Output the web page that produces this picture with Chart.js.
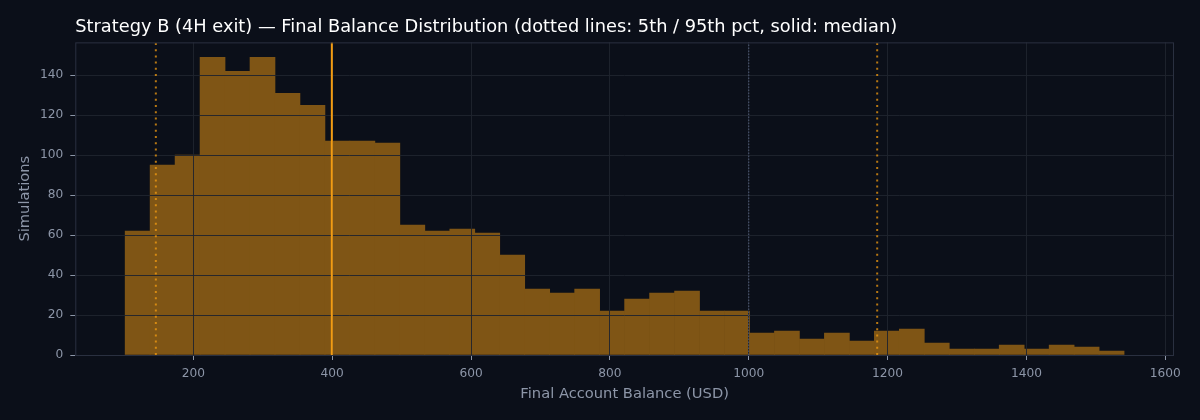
<!DOCTYPE html>
<html>
<head>
<meta charset="utf-8">
<title>Strategy B final balance distribution</title>
<script src="https://cdn.jsdelivr.net/npm/chart.js@4.4.1/dist/chart.umd.min.js"></script>
<style>
  html, body { margin: 0; padding: 0; background: #0b0f19; }
  #wrap { width: 1200px; height: 420px; position: relative; }
</style>
</head>
<body>
<div id="wrap"><canvas id="myChart"></canvas></div>
<script>
// histogram: 40 equal bins, first left edge + width
const binStart = 101.8;
const binWidth = 35.97;
const counts = [
  62, 95, 100, 149, 142, 149, 131, 125, 107, 107,
  106, 65, 62, 63, 61, 50, 33, 31, 33, 22,
  28, 31, 32, 22, 22, 11, 12, 8, 11, 7,
  12, 13, 6, 3, 3, 5, 3, 5, 4, 2,
];
const pct5 = 146;
const median = 399.5;
const pct95 = 1185;
const startBalance = 1000;

const xTicks = [200, 400, 600, 800, 1000, 1200, 1400, 1600];
const yTicks = [0, 20, 40, 60, 80, 100, 120, 140];
const xRange = [30, 1612.5];
const yRange = [0, 156.45];

const tickColor = "#8d96a8";
const gridColor = "rgba(32, 36, 46, 0.92)";
const orange = "#f39c12";

const binCenters = counts.map((_, i) => binStart + binWidth * (i + 0.5));

function vline(xVal, color, width, dash) {
  return {
    type: "line",
    data: [{ x: xVal, y: yRange[0] }, { x: xVal, y: yRange[1] }],
    borderColor: color,
    borderWidth: width,
    borderDash: dash,
    pointRadius: 0,
    fill: false,
    order: 0,
  };
}

// bars sit under the grid, the marker lines go over it
const linesOnTop = {
  id: "linesOnTop",
  beforeDatasetDraw(chart, args) {
    if (args.meta.type === "line") return false;
  },
  afterDraw(chart) {
    const { ctx, chartArea: { left, top, right, bottom } } = chart;
    ctx.save();
    ctx.beginPath();
    ctx.rect(left, top, right - left, bottom - top);
    ctx.clip();
    chart.getSortedVisibleDatasetMetas()
      .filter((m) => m.type === "line")
      .reverse()
      .forEach((m) => m.controller.draw());
    ctx.restore();

    // frame round the plot
    ctx.save();
    ctx.strokeStyle = "#2a3040";
    ctx.lineWidth = 1;
    ctx.strokeRect(left + 0.5, top + 0.5, right - left - 1, bottom - top);
    ctx.restore();
  },
};

const ctx = document.getElementById("myChart");
// eslint-disable-next-line no-undef
new Chart(ctx, {
  data: {
    datasets: [
      vline(median, orange, 2, []),
      vline(pct5, "rgba(243, 156, 18, 0.75)", 2, [2, 4.2]),
      vline(pct95, "rgba(243, 156, 18, 0.75)", 2, [2, 4.2]),
      vline(startBalance, "#4f5d78", 1, [1.5, 1.5]),
      {
        type: "bar",
        data: binCenters.map((c, i) => ({ x: c, y: counts[i] })),
        backgroundColor: "#7f5515",
        borderWidth: 0,
        barPercentage: 1,
        categoryPercentage: 1,
        order: 10,
      },
    ],
  },
  options: {
    responsive: true,
    maintainAspectRatio: false,
    animation: false,
    layout: { padding: { left: 0, right: 26, top: 0, bottom: 0 } },
    plugins: {
      legend: { display: false },
      tooltip: { enabled: false },
      title: {
        display: true,
        text: "Strategy B (4H exit) — Final Balance Distribution (dotted lines: 5th / 95th pct, solid: median)",
        align: "start",
        fullSize: false,
        color: "#ffffff",
        font: { family: "DejaVu Sans", size: 17.8, weight: "normal" },
        padding: { top: 16.5, bottom: 4.5 },
      },
    },
    scales: {
      x: {
        type: "linear",
        min: xRange[0],
        max: xRange[1],
        offset: false,
        z: 1,
        afterBuildTicks: (axis) => { axis.ticks = xTicks.map((v) => ({ value: v })); },
        afterFit: (scale) => { scale.height = 65; },
        grid: { color: gridColor, tickColor: tickColor, tickLength: 5, offset: false, z: 1 },
        border: { display: false },
        ticks: {
          color: tickColor,
          padding: 7,
          maxRotation: 0,
          callback: (v) => String(v),
          font: { family: "DejaVu Sans", size: 12.2 },
        },
        title: {
          display: true,
          text: "Final Account Balance (USD)",
          color: tickColor,
          font: { family: "DejaVu Sans", size: 14.7 },
          padding: { top: 4, bottom: 17.5 },
        },
      },
      y: {
        type: "linear",
        min: yRange[0],
        max: yRange[1],
        z: 1,
        afterBuildTicks: (axis) => { axis.ticks = yTicks.map((v) => ({ value: v })); },
        afterFit: (scale) => { scale.width = 75.3; },
        grid: { color: gridColor, tickColor: tickColor, tickLength: 5, z: 1 },
        border: { display: false },
        ticks: {
          color: tickColor,
          padding: 7,
          callback: (v) => String(v),
          font: { family: "DejaVu Sans", size: 12.2 },
        },
        title: {
          display: true,
          text: "Simulations",
          color: tickColor,
          font: { family: "DejaVu Sans", size: 14.7 },
          padding: { top: 16.5, bottom: 4 },
        },
      },
    },
  },
  plugins: [linesOnTop],
});
</script>
</body>
</html>
